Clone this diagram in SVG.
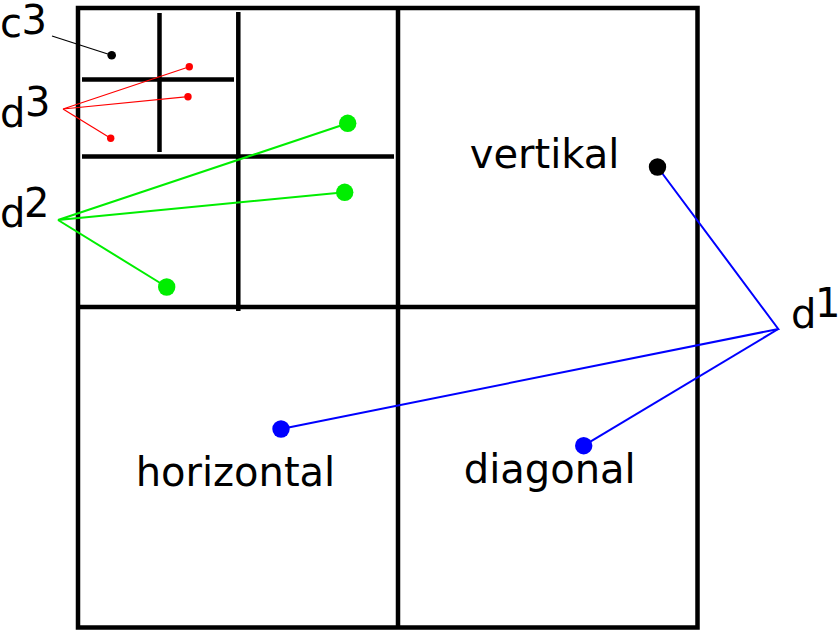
<svg xmlns="http://www.w3.org/2000/svg" width="840" height="631" viewBox="0 0 840 631">
<style>
.grid{stroke:#000;stroke-width:4.5;fill:none}
.lbl{font-family:"DejaVu Sans",sans-serif;font-size:40px;fill:#000}
.red{stroke:#ff0000;stroke-width:1.2;fill:none}
.grn{stroke:#00ee00;stroke-width:2;fill:none}
.blu{stroke:#0000ff;stroke-width:2;fill:none}
.blk{stroke:#000;stroke-width:1.2;fill:none}
</style>
<rect width="840" height="631" fill="#fff"/>
<g id="grid">
<rect class="grid" x="78" y="8" width="619.5" height="619.5"/>
<line class="grid" x1="398" y1="8" x2="398" y2="627.5"/>
<line class="grid" x1="78" y1="307" x2="697.5" y2="307"/>
<line class="grid" x1="238.3" y1="12" x2="238.3" y2="311"/>
<line class="grid" x1="82" y1="156.5" x2="394" y2="156.5"/>
<line class="grid" x1="159.5" y1="13" x2="159.5" y2="152"/>
<line class="grid" x1="82" y1="79.5" x2="234" y2="79.5"/>
</g>
<g id="connectors">
<line class="blk" x1="52" y1="36" x2="111.7" y2="55.3"/>
<polyline class="red" points="189.3,66.7 63,109 188,96.7"/>
<line class="red" x1="63" y1="109" x2="110.7" y2="138.3"/>
<polyline class="grn" points="347.7,123.3 58,220 344.7,192.3"/>
<line class="grn" x1="58" y1="220" x2="166.7" y2="287"/>
<polyline class="blu" points="657.5,167 778.3,329 281,429"/>
<line class="blu" x1="778.3" y1="329" x2="583.7" y2="445.7"/>
</g>
<g id="c3"><circle cx="111.7" cy="55.3" r="4.3" fill="#000"/><text class="lbl" x="0" y="36.5">c</text><text class="lbl" x="21.5" y="33.5" font-size="34">3</text></g>
<g id="d3"><circle cx="189.3" cy="66.7" r="3.7" fill="#f00"/><circle cx="188" cy="96.7" r="3.7" fill="#f00"/><circle cx="110.7" cy="138.3" r="3.7" fill="#f00"/><text class="lbl" x="0" y="126.7">d</text><text class="lbl" x="25" y="116.3" font-size="38">3</text></g>
<g id="d2"><circle cx="347.7" cy="123.3" r="8.7" fill="#00ee00"/><circle cx="344.7" cy="192.3" r="8.7" fill="#00ee00"/><circle cx="166.7" cy="287" r="8.7" fill="#00ee00"/><text class="lbl" x="0" y="226.7">d</text><text class="lbl" x="24" y="216.7" font-size="38">2</text></g>
<g id="d1"><circle cx="281" cy="429" r="8.7" fill="#0000ff"/><circle cx="583.7" cy="445.7" r="8.7" fill="#0000ff"/><text class="lbl" x="791" y="328.3">d</text><text class="lbl" x="815" y="317.3" font-size="38">1</text></g>
<g id="vertikal"><circle cx="657.5" cy="167" r="8.7" fill="#000"/><text class="lbl" x="469.8" y="168.3">vertikal</text></g>
<g id="horizontal"><text class="lbl" x="135.7" y="486">horizontal</text></g>
<g id="diagonal"><text class="lbl" x="463.8" y="482.7">diagonal</text></g>
</svg>
